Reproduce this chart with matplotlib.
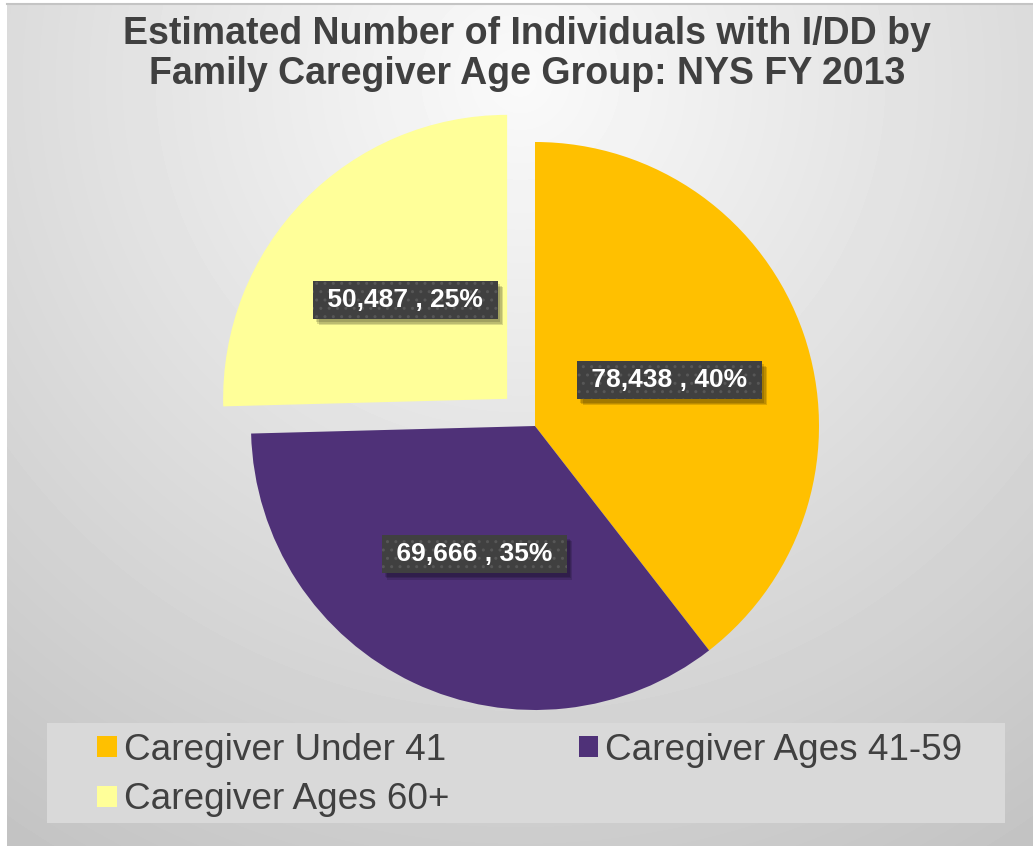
import numpy as np
import matplotlib.pyplot as plt
import matplotlib.patheffects as pe
from matplotlib.patches import Rectangle
from matplotlib.lines import Line2D

plt.rcParams['font.family'] = ['Liberation Sans', 'DejaVu Sans']

groups = ['Caregiver Under 41', 'Caregiver Ages 41-59', 'Caregiver Ages 60+']
individuals = [78438, 69666, 50487]
shares = [40, 35, 25]  # percent as printed on the slices
colors = ['#FFC000', '#4F3178', '#FFFF99']
explode = [0, 0, 0.137]

W, H = 1033, 846
fig = plt.figure(figsize=(W / 100, H / 100), dpi=100, facecolor='white')

# soft radial grey fill behind everything
yy, xx = np.mgrid[0:H, 0:W]
d = np.hypot(xx - 520, yy - 80)
shade = np.clip(250 - 0.06 * d, 0, 255) / 255
bg = fig.add_axes([7 / W, 0, (W - 7) / W, (H - 5) / H], zorder=-1)
bg.imshow(shade[5:, 7:], cmap='gray', vmin=0, vmax=1, aspect='auto',
          interpolation='bilinear')
bg.axis('off')
fig.add_artist(Line2D([7 / W, 1], [1 - 4.5 / H, 1 - 4.5 / H], color='#c4c4c4',
                      lw=1.5, transform=fig.transFigure))

# pie
S = 700
cx, cy, R = 535, 426, 284
ax = fig.add_axes([(cx - S / 2) / W, (H - cy - S / 2) / H, S / W, S / H])
wedges, _, autotexts = ax.pie(individuals, colors=colors, explode=explode,
                              startangle=90, counterclock=False,
                              autopct='%.0f%%', pctdistance=0.5, radius=1,
                              wedgeprops=dict(linewidth=0))
lim = S / 2 / R
ax.set_xlim(-lim, lim)
ax.set_ylim(-lim, lim)
ax.axis('off')

shadow = [pe.SimplePatchShadow(offset=(2 + k, -2.5 - k), shadow_rgbFace='black',
                               alpha=0.14, hatch=None) for k in range(3)]
for t, n, p in zip(autotexts, individuals, shares):
    t.set_text(f' {n:,} , {p}% ')
    t.set_color('white')
    t.set_fontsize(19)
    t.set_fontweight('bold')
    t.set_bbox(dict(boxstyle='square,pad=0.27', fc='#404040', ec='#575757', lw=0,
                    hatch='..', path_effects=shadow + [pe.Normal()]))

fig.text(527 / W, 1 - 54 / H,
         'Estimated Number of Individuals with I/DD by\nFamily Caregiver Age Group: NYS FY 2013',
         ha='center', va='center', fontsize=27, fontweight='bold', color='#404040',
         linespacing=1.17)

# legend panel and entries (row-wise order)
fig.add_artist(Rectangle((47 / W, 1 - 823 / H), 958 / W, 100 / H,
                         transform=fig.transFigure, fc='#d9d9d9', ec='none', zorder=1))
order = [0, 2, 1]
leg = fig.legend([wedges[i] for i in order], [groups[i] for i in order], ncol=2,
                 loc='center', bbox_to_anchor=(530 / W, 1 - 775 / H), frameon=False,
                 fontsize=26.6, handlelength=0.52, handleheight=0.52,
                 handletextpad=0.2, columnspacing=3.5, labelspacing=0.4, borderpad=0)
for t in leg.get_texts():
    t.set_color('#404040')

fig.savefig('out.png', dpi=100, facecolor='white')
